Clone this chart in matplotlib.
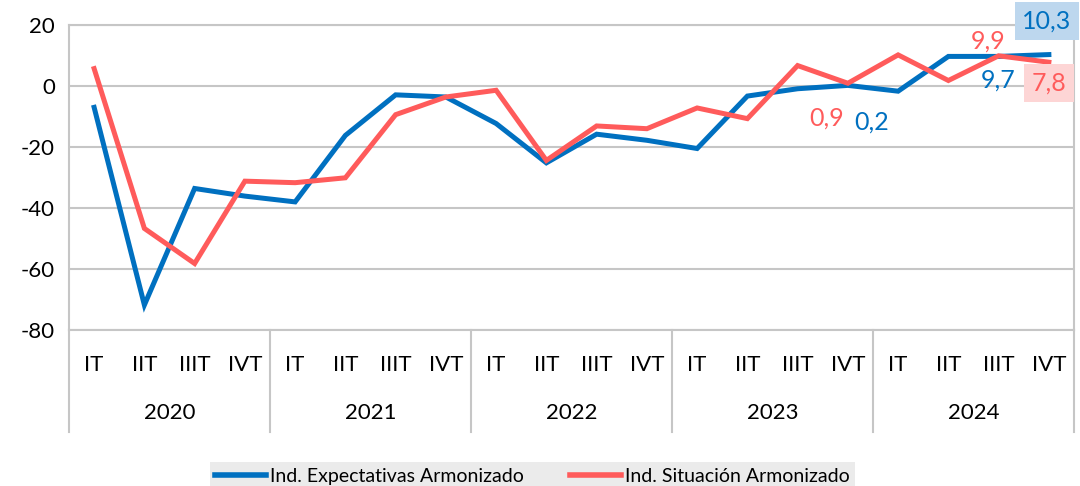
import numpy as np
import matplotlib.pyplot as plt
import matplotlib.transforms as mtransforms

plt.rcParams['font.family'] = ['Lato', 'DejaVu Sans']
plt.rcParams['axes.unicode_minus'] = False

years = ['2020', '2021', '2022', '2023', '2024']
quarters = ['IT', 'IIT', 'IIIT', 'IVT']

expectativas = [-7.0, -71.8, -33.6, -36.1,
                -38.0, -16.2, -2.9, -3.6,
                -12.3, -25.2, -15.8, -17.8,
                -20.5, -3.3, -0.9, 0.2,
                -1.7, 9.7, 9.7, 10.3]
situacion = [5.7, -46.7, -58.2, -31.2,
             -31.7, -30.1, -9.4, -3.6,
             -1.4, -24.4, -13.1, -14.0,
             -7.2, -10.7, 6.7, 0.9,
             10.2, 1.8, 9.9, 7.8]

blue = '#0070C0'
red = '#FF5B5B'
grid_c = '#C6C6C6'

W, H = 1080, 486
fig = plt.figure(figsize=(W / 100, H / 100), dpi=100)
ax = fig.add_axes([69 / W, (H - 330) / H, (1074 - 69) / W, (330 - 25) / H])

x = np.arange(len(expectativas))
ax.plot(x, expectativas, color=blue, lw=3.6, solid_joinstyle='miter',
        label='Ind. Expectativas Armonizado', zorder=3)
ax.plot(x, situacion, color=red, lw=3.6, solid_joinstyle='miter',
        label='Ind. Situación Armonizado', zorder=3)

ax.set_xlim(-0.5, len(x) - 0.5)
ax.set_ylim(-80, 20)
ax.set_yticks(range(-80, 21, 20))
ax.tick_params(axis='y', length=0, labelsize=16, pad=10)
ax.set_xticks([])
ax.grid(axis='y', color=grid_c, lw=1.5)
ax.set_axisbelow(True)
for s in ax.spines.values():
    s.set_color(grid_c)
    s.set_linewidth(1.5)

# two-level category axis
trans = mtransforms.blended_transform_factory(ax.transData, ax.transAxes)
px = 1 / 305.0
for i, q in enumerate(quarters * len(years)):
    ax.text(i, -35 * px, q, transform=trans, ha='center', va='center',
            fontsize=16, clip_on=False)
for j, yr in enumerate(years):
    ax.text(j * 4 + 1.5, -83 * px, yr, transform=trans, ha='center',
            va='center', fontsize=16, clip_on=False)
for j in range(len(years) + 1):
    ax.plot([j * 4 - 0.5] * 2, [0, -102 * px], transform=trans,
            color=grid_c, lw=1.5, clip_on=False)

# data labels
def lab(i, series, txt, dx, dy, col, box=None):
    kw = {}
    if box:
        kw['bbox'] = dict(boxstyle='square,pad=0.3', fc=box, ec='none')
    ax.annotate(txt, (i, series[i]), xytext=(dx, dy), textcoords='offset pixels',
                ha='center', va='center', color=col, fontsize=18, zorder=4,
                annotation_clip=False, **kw)

lab(19, expectativas, '10,3', -2, 34, blue, '#BDD7EE')
lab(19, situacion, '7,8', 0, -21, red, '#FDD5D5')
lab(18, situacion, '9,9', -10, 15, red)
lab(18, expectativas, '9,7', 0, -24, blue)
lab(15, situacion, '0,9', -21, -35, red)
lab(15, expectativas, '0,2', 24, -37, blue)

leg = fig.legend(loc='lower center', bbox_to_anchor=(0.493, -0.022), ncol=2,
                 fontsize=14, frameon=True, fancybox=False, handlelength=2.6,
                 handletextpad=0.2, columnspacing=2.4, borderpad=0.3,
                 borderaxespad=0.3)
leg.get_frame().set_facecolor('#E7E6E6')
leg.get_frame().set_edgecolor('none')
for l in leg.get_lines():
    l.set_linewidth(4)

fig.savefig('out.png', dpi=100)
